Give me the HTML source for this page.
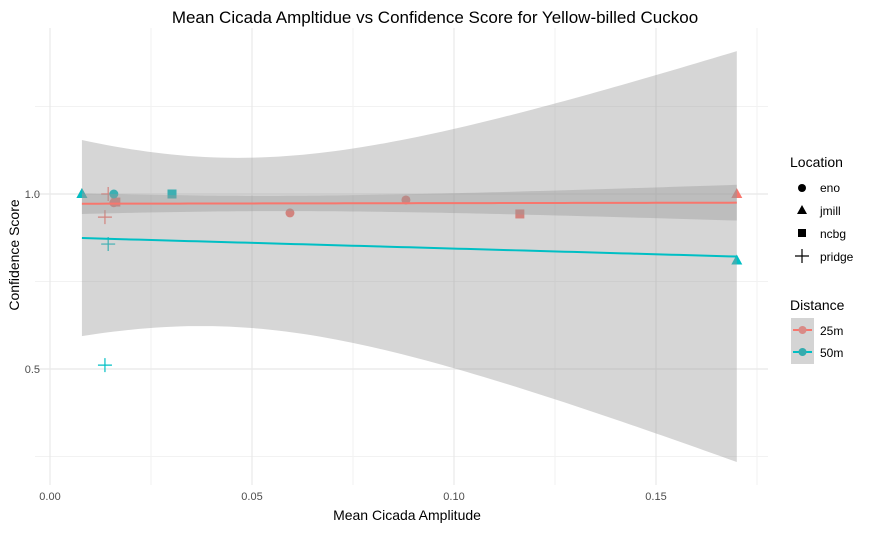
<!DOCTYPE html>
<html><head><meta charset="utf-8"><style>
body{margin:0;background:#fff;font-family:"Liberation Sans",Arial,sans-serif}
svg text{font-family:"Liberation Sans",Arial,sans-serif}
</style></head><body>
<svg id="chart" width="871" height="530" xmlns="http://www.w3.org/2000/svg">
<text x="435" y="23" font-size="17" text-anchor="middle" fill="#000">Mean Cicada Ampltidue vs Confidence Score for Yellow-billed Cuckoo</text>
<g id="grid"></g><g id="points"></g><g id="ribbons"></g><g id="lines"></g><g id="axes"></g>
<text x="407" y="520" font-size="14" text-anchor="middle">Mean Cicada Amplitude</text>
<text transform="translate(19,255) rotate(-90)" font-size="14" text-anchor="middle">Confidence Score</text>
<g>
<text x="790" y="167" font-size="14">Location</text>
<circle cx="802" cy="188" r="4" fill="#000"/><text x="820" y="192" font-size="12">eno</text>
<polygon points="802,205 797,214 807,214" fill="#000"/><text x="820" y="215" font-size="12">jmill</text>
<rect x="798" y="229" width="8" height="8" fill="#000"/><text x="820" y="238" font-size="12">ncbg</text>
<path d="M795,256 h14 M802,249 v14" stroke="#000" stroke-width="1.2"/><text x="820" y="261" font-size="12">pridge</text>
</g>
<g>
<text x="790" y="310" font-size="14">Distance</text>
<rect x="791" y="318" width="23" height="46" fill="#d4d4d4"/>
<line x1="793" y1="330" x2="812" y2="330" stroke="#F8766D" stroke-width="2"/><circle cx="802.5" cy="330" r="4" fill="#d98a86"/>
<line x1="793" y1="352" x2="812" y2="352" stroke="#00BFC4" stroke-width="2"/><circle cx="802.5" cy="352" r="4" fill="#35abae"/>
<text x="820" y="335" font-size="12">25m</text><text x="820" y="357" font-size="12">50m</text>
</g>
</svg>
<script>
const xTicks=[0,0.05,0.10,0.15];
const xTickLabels=["0.00","0.05","0.10","0.15"];
const yTicks=[0.5,1.0];
const yTickLabels=["0.5","1.0"];
const x25=[0.0079,0.0144,0.0163,0.0158,0.0136,0.0594,0.0881,0.1163,0.170];
const y25=[1.0,1.0,0.977,0.975,0.934,0.946,0.983,0.943,1.0];
const s25=["jmill","pridge","ncbg","eno","pridge","eno","eno","ncbg","jmill"];
const x50=[0.0079,0.0158,0.0144,0.0136,0.0302,0.170];
const y50=[1.0,1.0,0.857,0.511,1.0,0.81];
const s50=["jmill","eno","pridge","pridge","ncbg","jmill"];
const NS="http://www.w3.org/2000/svg";
const X=v=>50+4040*v, Y=v=>194-350*(v-1);
const L=35,R=768,T=28,B=485;
function mk(tag,attrs,parent){const e=document.createElementNS(NS,tag);for(const k in attrs)e.setAttribute(k,attrs[k]);document.getElementById(parent).appendChild(e);return e;}
[0.025,0.075,0.125,0.175].forEach(v=>{const e=mk('line',{x1:X(v),x2:X(v),y1:T,y2:B,stroke:'#f2f2f2','stroke-width':1},'grid');

});
[0.25,0.75,1.25].forEach(v=>{const e=mk('line',{x1:L,x2:R,y1:Y(v),y2:Y(v),stroke:'#f2f2f2','stroke-width':1},'grid');

});
xTicks.forEach((v,i)=>{const e=mk('line',{x1:X(v),x2:X(v),y1:T,y2:B,stroke:'#e8e8e8','stroke-width':1.2},'grid');


const t=mk('text',{x:X(v),y:500,'font-size':11,fill:'#4d4d4d','text-anchor':'middle'},'axes');t.textContent=xTickLabels[i];

});
yTicks.forEach((v,i)=>{const e=mk('line',{x1:L,x2:R,y1:Y(v),y2:Y(v),stroke:'#e8e8e8','stroke-width':1.2},'grid');


const t=mk('text',{x:40,y:Y(v)+4,'font-size':11,fill:'#4d4d4d','text-anchor':'end'},'axes');t.textContent=yTickLabels[i];

});
const tq={2:4.303,3:3.182,4:2.776,5:2.571,6:2.447,7:2.365,8:2.306};
function fit(xs,ys,color,name){
 const n=xs.length,mx=xs.reduce((a,b)=>a+b)/n,my=ys.reduce((a,b)=>a+b)/n;
 let sxx=0,sxy=0;xs.forEach((x,i)=>{sxx+=(x-mx)**2;sxy+=(x-mx)*(ys[i]-my);});
 const b=sxy/sxx,a=my-b*mx;let ss=0;xs.forEach((x,i)=>{ss+=(ys[i]-a-b*x)**2;});
 const s=Math.sqrt(ss/(n-2)),t=tq[n-2]||2.3;
 const x0=Math.min(...xs),x1=Math.max(...xs);const up=[],lo=[],mid=[];
 for(let k=0;k<=80;k++){const x=x0+(x1-x0)*k/80,f=a+b*x,h=t*s*Math.sqrt(1/n+(x-mx)**2/sxx);
  up.push(X(x)+','+Y(f+h));lo.unshift(X(x)+','+Y(f-h));mid.push(X(x)+','+Y(f));}
 const r=mk('polygon',{points:up.concat(lo).join(' '),fill:'#999',opacity:0.4},'ribbons');
 
 
 const l=mk('polyline',{points:mid.join(' '),fill:'none',stroke:color,'stroke-width':2},'lines');
 
 
}
fit(x50,y50,'#00BFC4','50m');fit(x25,y25,'#F8766D','25m');
function pts(xs,ys,ss,color,name){xs.forEach((x,i)=>{const cx=X(x),cy=Y(ys[i]);let e;
 if(ss[i]==='eno')e=mk('circle',{cx:cx,cy:cy,r:4.5,fill:color},'points');
 else if(ss[i]==='jmill')e=mk('polygon',{points:`${cx},${cy-6} ${cx-5.5},${cy+4} ${cx+5.5},${cy+4}`,fill:color},'points');
 else if(ss[i]==='ncbg')e=mk('rect',{x:cx-4.5,y:cy-4.5,width:9,height:9,fill:color},'points');
 else e=mk('path',{d:`M${cx-7},${cy}h14M${cx},${cy-7}v14`,stroke:color,'stroke-width':1.2},'points');
 
 });}
pts(x25,y25,s25,'#F8766D','25m');pts(x50,y50,s50,'#00BFC4','50m');
</script>
</body></html>
